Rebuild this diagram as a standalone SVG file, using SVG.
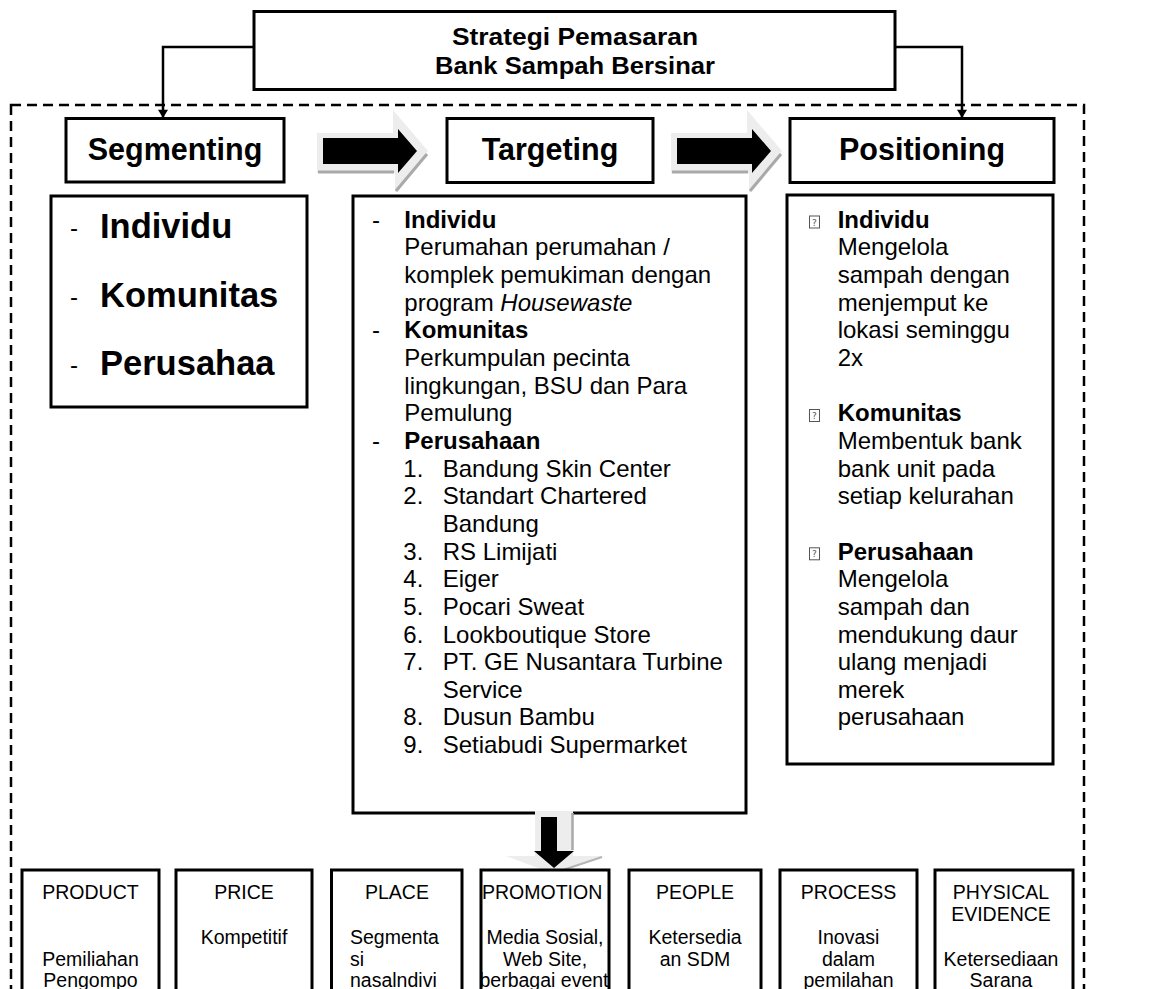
<svg xmlns="http://www.w3.org/2000/svg" width="1159" height="989" viewBox="0 0 1159 989">
<style>
.bx{fill:#fff;stroke:#000;stroke-width:3}
.t{font-family:"Liberation Sans",Arial,Helvetica,sans-serif;fill:#000}
.h{font-size:30.5px;font-weight:bold;text-anchor:middle}
.ttl{font-size:23.5px;font-weight:bold;text-anchor:middle}
.b{font-size:24px}
.bb{font-weight:bold}
.seg{font-size:34.5px;font-weight:bold}
.s{font-size:19.5px}
.c{text-anchor:middle}
.ln{fill:none;stroke:#000;stroke-width:2.5}
.sh{fill:#ededed}
.sg{fill:none;stroke:#a9a9a9;stroke-width:3}
.tofu{fill:none;stroke:#555;stroke-width:1}
.q{font-family:"DejaVu Sans",sans-serif;font-size:9px;fill:#555;text-anchor:middle}
</style>
<defs>
<marker id="ah" viewBox="0 0 10 12" refX="10" refY="6" markerWidth="12" markerHeight="10" orient="auto" markerUnits="userSpaceOnUse">
<path d="M0,0 L10,6 L0,12 z" fill="#000"/>
</marker>
</defs>
<rect x="11" y="105" width="1073" height="900" fill="none" stroke="#000" stroke-width="2.5" stroke-dasharray="10 6"/>

<g id="connectors">
<path class="ln" d="M254,47 H163 V118" marker-end="url(#ah)"/>
<path class="ln" d="M895,47 H962 V118" marker-end="url(#ah)"/>
<g id="arrow1">
<polygon class="sh" points="317,133 393,133 393,110 428,151 395,193 395,173 317,173"/>
<line class="sg" x1="318" y1="172" x2="394" y2="172"/>
<line class="sg" x1="396" y1="191" x2="427" y2="154"/>
<polygon points="323,138 398,138 398,129 417,151 398,173 398,164 323,164" fill="#000"/>
</g>
<g id="arrow2" transform="translate(354,0)">
<polygon class="sh" points="317,133 393,133 393,110 428,151 395,193 395,173 317,173"/>
<line class="sg" x1="318" y1="172" x2="394" y2="172"/>
<line class="sg" x1="396" y1="191" x2="427" y2="154"/>
<polygon points="323,138 398,138 398,129 417,151 398,173 398,164 323,164" fill="#000"/>
</g>
</g>

<g id="title">
<rect class="bx" x="254" y="11.5" width="641" height="78"/>
<text class="t ttl" x="575" y="45" textLength="246" lengthAdjust="spacingAndGlyphs">Strategi Pemasaran</text>
<text class="t ttl" x="575" y="74" textLength="280" lengthAdjust="spacingAndGlyphs">Bank Sampah Bersinar</text>
</g>

<g id="segmenting">
<rect class="bx" x="66" y="118.5" width="218" height="63.5"/>
<text class="t h" x="175" y="160">Segmenting</text>
</g>
<g id="targeting">
<rect class="bx" x="447" y="118.5" width="206" height="64"/>
<text class="t h" x="550" y="160">Targeting</text>
</g>
<g id="positioning">
<rect class="bx" x="790" y="118.5" width="264" height="64"/>
<text class="t h" x="922" y="160">Positioning</text>
</g>

<g id="segmenting-list">
<rect class="bx" x="51" y="196" width="256" height="211"/>
<text class="t b" x="70" y="236">-</text>
<text class="t seg" x="100" y="238">Individu</text>
<text class="t b" x="70" y="305">-</text>
<text class="t seg" x="100" y="307">Komunitas</text>
<text class="t b" x="70" y="373">-</text>
<text class="t seg" x="100" y="375">Perusahaa</text>
</g>

<g id="targeting-list">
<rect class="bx" x="353" y="196" width="393" height="617"/>
<text class="t b">
<tspan x="372" y="227.7">-</tspan>
<tspan x="404.3" y="227.7" class="bb">Individu</tspan>
<tspan x="404.3" y="255.3">Perumahan perumahan /</tspan>
<tspan x="404.3" y="283">komplek pemukiman dengan</tspan>
<tspan x="404.3" y="310.6">program <tspan font-style="italic">Housewaste</tspan></tspan>
<tspan x="372" y="338.3">-</tspan>
<tspan x="404.3" y="338.3" class="bb">Komunitas</tspan>
<tspan x="404.3" y="366">Perkumpulan pecinta</tspan>
<tspan x="404.3" y="393.6">lingkungan, BSU dan Para</tspan>
<tspan x="404.3" y="421.3">Pemulung</tspan>
<tspan x="372" y="448.9">-</tspan>
<tspan x="404.3" y="448.9" class="bb">Perusahaan</tspan>
<tspan x="403.3" y="476.6">1.</tspan><tspan x="442.7" y="476.6">Bandung Skin Center</tspan>
<tspan x="403.3" y="504.2">2.</tspan><tspan x="442.7" y="504.2">Standart Chartered</tspan>
<tspan x="442.7" y="531.9">Bandung</tspan>
<tspan x="403.3" y="559.5">3.</tspan><tspan x="442.7" y="559.5">RS Limijati</tspan>
<tspan x="403.3" y="587.2">4.</tspan><tspan x="442.7" y="587.2">Eiger</tspan>
<tspan x="403.3" y="614.8">5.</tspan><tspan x="442.7" y="614.8">Pocari Sweat</tspan>
<tspan x="403.3" y="642.5">6.</tspan><tspan x="442.7" y="642.5">Lookboutique Store</tspan>
<tspan x="403.3" y="670.1">7.</tspan><tspan x="442.7" y="670.1">PT. GE Nusantara Turbine</tspan>
<tspan x="442.7" y="697.8">Service</tspan>
<tspan x="403.3" y="725.4">8.</tspan><tspan x="442.7" y="725.4">Dusun Bambu</tspan>
<tspan x="403.3" y="753.1">9.</tspan><tspan x="442.7" y="753.1">Setiabudi Supermarket</tspan>
</text>
</g>

<g id="positioning-list">
<rect class="bx" x="787" y="195" width="266" height="569"/>
<rect class="tofu" x="809.5" y="216" width="10" height="12"/>
<text class="q" x="814.5" y="225.5">?</text>
<rect class="tofu" x="809.5" y="409.5" width="10" height="12"/>
<text class="q" x="814.5" y="419">?</text>
<rect class="tofu" x="809.5" y="547.8" width="10" height="12"/>
<text class="q" x="814.5" y="557.3">?</text>
<text class="t b">
<tspan x="837.7" y="227.7" class="bb">Individu</tspan>
<tspan x="837.7" y="255.3">Mengelola</tspan>
<tspan x="837.7" y="283">sampah dengan</tspan>
<tspan x="837.7" y="310.6">menjemput ke</tspan>
<tspan x="837.7" y="338.3">lokasi seminggu</tspan>
<tspan x="837.7" y="366">2x</tspan>
<tspan x="837.7" y="421.3" class="bb">Komunitas</tspan>
<tspan x="837.7" y="448.9">Membentuk bank</tspan>
<tspan x="837.7" y="476.6">bank unit pada</tspan>
<tspan x="837.7" y="504.2">setiap kelurahan</tspan>
<tspan x="837.7" y="559.5" class="bb">Perusahaan</tspan>
<tspan x="837.7" y="587.2">Mengelola</tspan>
<tspan x="837.7" y="614.8">sampah dan</tspan>
<tspan x="837.7" y="642.5">mendukung daur</tspan>
<tspan x="837.7" y="670.1">ulang menjadi</tspan>
<tspan x="837.7" y="697.8">merek</tspan>
<tspan x="837.7" y="725.4">perusahaan</tspan>
</text>
</g>

<g id="down-arrow">
<polygon class="sh" points="535,811 573,811 573,856 604,856 562,871 546,871 506,856 535,856"/>
<line x1="572.5" y1="813" x2="572.5" y2="850" stroke="#a9a9a9" stroke-width="2.5"/>
<line x1="602" y1="857" x2="563" y2="870" stroke="#b5b5b5" stroke-width="2"/>
<polygon points="541,817 557,817 557,851 574,851 554,868 534,851 541,851" fill="#000"/>
</g>

<g id="product">
<rect class="bx" x="22" y="870" width="137" height="200"/>
<text class="t s c" x="90.5" y="899">PRODUCT</text>
<text class="t s c" x="90.5" y="965.5">Pemiliahan</text>
<text class="t s c" x="90.5" y="987">Pengompo</text>
</g>
<g id="price">
<rect class="bx" x="176" y="870" width="136" height="200"/>
<text class="t s c" x="244" y="899">PRICE</text>
<text class="t s c" x="244" y="944">Kompetitif</text>
</g>
<g id="place">
<rect class="bx" x="331.5" y="870" width="130.5" height="200"/>
<text class="t s c" x="397" y="899">PLACE</text>
<text class="t s" x="350" y="944">Segmenta</text>
<text class="t s" x="350" y="965.5">si</text>
<text class="t s" x="350" y="987">nasalndivi</text>
</g>
<g id="promotion">
<rect class="bx" x="481" y="870" width="128" height="200"/>
<text class="t s" x="482" y="899">PROMOTION</text>
<text class="t s c" x="545" y="944">Media Sosial,</text>
<text class="t s c" x="545" y="965.5">Web Site,</text>
<text class="t s c" x="544" y="987">berbagai event</text>
</g>
<g id="people">
<rect class="bx" x="629" y="870" width="132" height="200"/>
<text class="t s c" x="695" y="899">PEOPLE</text>
<text class="t s c" x="695" y="944">Ketersedia</text>
<text class="t s c" x="695" y="965.5">an SDM</text>
</g>
<g id="process">
<rect class="bx" x="780" y="870" width="137" height="200"/>
<text class="t s c" x="848.5" y="899">PROCESS</text>
<text class="t s c" x="848.5" y="944">Inovasi</text>
<text class="t s c" x="848.5" y="965.5">dalam</text>
<text class="t s c" x="848.5" y="987">pemilahan</text>
</g>
<g id="physical-evidence">
<rect class="bx" x="935" y="870" width="138" height="200"/>
<text class="t s c" x="1001" y="899">PHYSICAL</text>
<text class="t s c" x="1001" y="920.5">EVIDENCE</text>
<text class="t s c" x="1001" y="965.5">Ketersediaan</text>
<text class="t s c" x="1001" y="987">Sarana</text>
</g>
</svg>
